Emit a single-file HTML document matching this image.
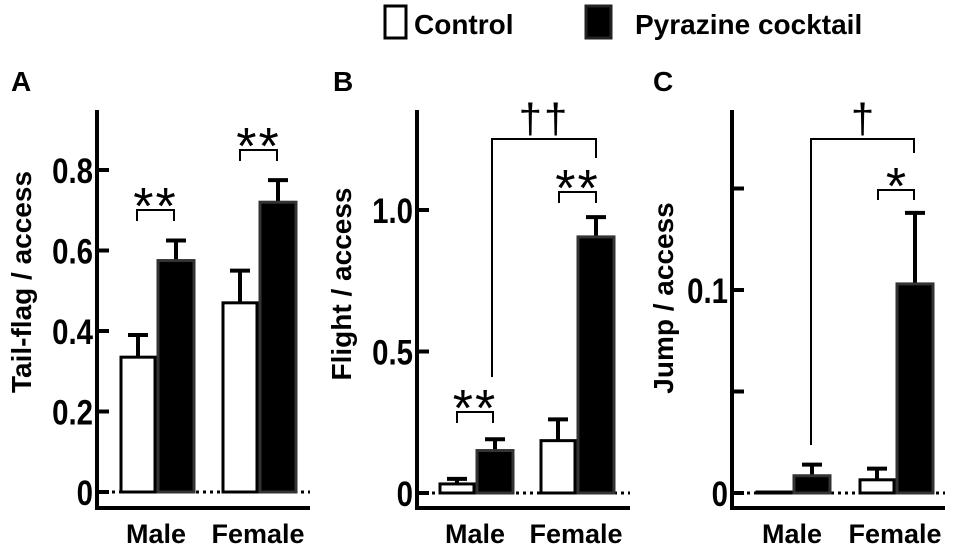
<!DOCTYPE html>
<html><head><meta charset="utf-8"><style>
html,body{margin:0;padding:0;background:#fff;}
svg{display:block;font-family:"Liberation Sans",Arial,sans-serif;}
</style></head><body>
<svg id="chart" width="957" height="549" viewBox="0 0 957 549">
  <g>
    <rect x="385" y="6" width="21" height="32" fill="#fff" stroke="#000" stroke-width="3"/>
    <text x="414" y="34" font-size="28" font-weight="bold">Control</text>
    <rect x="586" y="6" width="25" height="32" fill="#000" stroke="#222" stroke-width="3"/>
    <text x="635" y="34" font-size="28" font-weight="bold">Pyrazine cocktail</text>
  </g>
</svg>
<script>
const groups = ["Male", "Female"];
const tfControl = [0.335, 0.47];
const tfControlErr = [0.055, 0.08];
const tfPyrazine = [0.575, 0.72];
const tfPyrazineErr = [0.05, 0.055];
const tfTicks = [0, 0.2, 0.4, 0.6, 0.8];
const tfTickLabels = ["0", "0.2", "0.4", "0.6", "0.8"];
const flControl = [0.032, 0.185];
const flControlErr = [0.018, 0.075];
const flPyrazine = [0.15, 0.905];
const flPyrazineErr = [0.04, 0.07];
const flTicks = [0, 0.5, 1.0];
const flTickLabels = ["0", "0.5", "1.0"];
const jpControl = [0, 0.0065];
const jpControlErr = [0, 0.0055];
const jpPyrazine = [0.0085, 0.103];
const jpPyrazineErr = [0.0055, 0.035];
const jpTicks = [0, 0.05, 0.1, 0.15];
const jpTickLabels = ["0", "", "0.1", ""];

const NS = "http://www.w3.org/2000/svg";
const svg = document.getElementById("chart");
function mk(tag, attrs, parent) {
  const e = document.createElementNS(NS, tag);
  for (const k in attrs) e.setAttribute(k, attrs[k]);
  (parent || svg).appendChild(e);
  return e;
}

function panel(o) {
  const g = mk("g", {});
  
  
  const y = v => o.y0 - v * o.scale;
  const letter = mk("text", {x: o.letterX, y: 91, "font-size": 28, "font-weight": "bold"}, g);
  letter.textContent = o.letter;
  
  
  const ya = mk("line", {x1: o.ax, y1: 110, x2: o.ax, y2: 510, stroke: "#000", "stroke-width": 4}, g);
  
  
  const xa = mk("line", {x1: o.ax - 2, y1: 508, x2: o.ax + 213, y2: 508, stroke: "#000", "stroke-width": 4}, g);
  
  
  const zl = mk("line", {x1: o.ax + 8, y1: o.y0, x2: o.ax + 213, y2: o.y0, stroke: "#000", "stroke-width": 3, "stroke-dasharray": "3 4"}, g);
  
  
  o.ticks.forEach((t, i) => {
    const tk = mk("line", {x1: o.ax, y1: y(t), x2: o.ax + 12, y2: y(t), stroke: "#000", "stroke-width": 4}, g);
    
    
    if (o.labels[i]) {
      const tl = mk("text", {x: 0, y: 0, "font-size": 35, "font-weight": "bold", "text-anchor": "end", transform: `translate(${o.ax - 4},${y(t) + 13}) scale(0.84,1)`}, g);
      tl.textContent = o.labels[i];
      
      
    }
  });
  const yl = mk("text", {x: 0, y: 0, "font-size": 28, "font-weight": "bold", "text-anchor": "middle", transform: `translate(${o.ylx},${o.ylc}) rotate(-90)`}, g);
  yl.textContent = o.ylabel;
  
  
  groups.forEach((grp, i) => {
    const cx = o.gx[i];
    const series = [[o.ctrl, o.ctrlErr, "#fff", cx - 35, 34], [o.pyr, o.pyrErr, "#000", cx + 2, 36]];
    series.forEach((s, j) => {
      const v = s[0][i], e = s[1][i];
      const bx = s[3], bw = s[4];
      const mid = bx + bw / 2;
      if (e > 0) {
        const el = mk("line", {x1: mid, y1: y(v), x2: mid, y2: y(v + e), stroke: "#000", "stroke-width": 4}, g);
        
        
        const ec = mk("line", {x1: mid - 10, y1: y(v + e), x2: mid + 10, y2: y(v + e), stroke: "#000", "stroke-width": 4}, g);
        
        
      }
      const h = Math.max(v * o.scale, 1);
      const r = mk("rect", {x: bx, y: y(v) - (v === 0 ? 1 : 0), width: bw, height: h, fill: s[2], stroke: j ? "#333" : "#000", "stroke-width": 3}, g);
      
      
    });
    const gl = mk("text", {x: cx, y: 543, "font-size": 27, "font-weight": "bold", "text-anchor": "middle"}, g);
    gl.textContent = grp;
    
    
  });
  o.brackets.forEach(b => {
    const p = mk("path", {d: `M${b.x1},${b.l1} V${b.y} H${b.x2} V${b.l2}`, fill: "none", stroke: "#000", "stroke-width": 2}, g);
    
    
    const t = mk("text", {x: (b.x1 + b.x2) / 2, y: b.y + b.dy, "font-size": b.fs, "text-anchor": "middle", "letter-spacing": b.ls || 0}, g);
    t.textContent = b.sym;
    
    
  });
}

panel({key: "a-tail-flag", letter: "A", letterX: 11, ax: 97, y0: 492, scale: 402.5, ticks: tfTicks, labels: tfTickLabels,
  ylabel: "Tail-flag / access", ylx: 31, ylc: 282, gx: [156, 258],
  ctrl: tfControl, ctrlErr: tfControlErr, pyr: tfPyrazine, pyrErr: tfPyrazineErr,
  brackets: [{x1: 137, x2: 174, y: 210, l1: 221, l2: 221, sym: "**", dy: 14, fs: 52, ls: 2},
             {x1: 240, x2: 277, y: 150, l1: 161, l2: 161, sym: "**", dy: 14, fs: 52, ls: 2}]});
panel({key: "b-flight", letter: "B", letterX: 333, ax: 417, y0: 493, scale: 283, ticks: flTicks, labels: flTickLabels,
  ylabel: "Flight / access", ylx: 351, ylc: 284, gx: [475, 576],
  ctrl: flControl, ctrlErr: flControlErr, pyr: flPyrazine, pyrErr: flPyrazineErr,
  brackets: [{x1: 457, x2: 493, y: 412, l1: 423, l2: 423, sym: "**", dy: 14, fs: 52, ls: 2},
             {x1: 559, x2: 596, y: 192, l1: 203, l2: 203, sym: "**", dy: 14, fs: 52, ls: 2},
             {x1: 492, x2: 596, y: 139, l1: 377, l2: 158, sym: "††", fs: 42, dy: -6, ls: 2}]});
panel({key: "c-jump", letter: "C", letterX: 653, ax: 732, y0: 493, scale: 2030, ticks: jpTicks, labels: jpTickLabels,
  ylabel: "Jump / access", ylx: 673, ylc: 298, gx: [792, 895],
  ctrl: jpControl, ctrlErr: jpControlErr, pyr: jpPyrazine, pyrErr: jpPyrazineErr,
  brackets: [{x1: 878, x2: 914, y: 190, l1: 200, l2: 200, sym: "*", dy: 14, fs: 52},
             {x1: 811, x2: 914, y: 139, l1: 445, l2: 153, sym: "†", fs: 42, dy: -6}]});
</script>
</body></html>
